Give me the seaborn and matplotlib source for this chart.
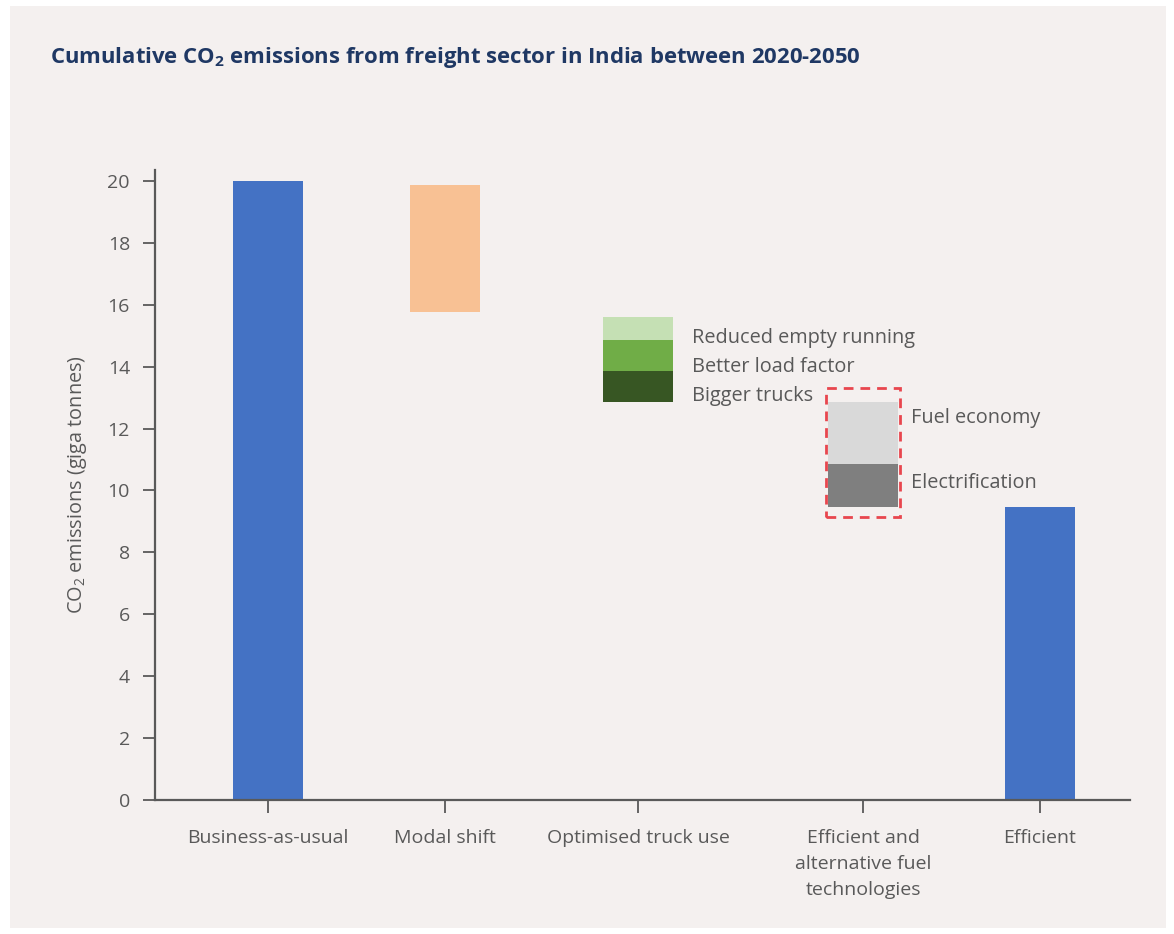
import numpy as np
import pandas as pd
import seaborn as sns
import matplotlib.pyplot as plt
from matplotlib.patches import Rectangle

# Data (giga tonnes CO2, cumulative 2020-2050)
categories = ['Business-as-usual', 'Modal shift', 'Optimised truck use',
              'Efficient and\nalternative fuel\ntechnologies', 'Efficient']
total_names = ['Business-as-usual', 'Efficient']
total_values = [20.0, 9.45]

modal_shift_bottom = 15.75
modal_shift_height = 4.1

truck_labels = ['Bigger trucks', 'Better load factor', 'Reduced empty running']
truck_bottoms = [12.85, 13.85, 14.85]
truck_heights = [1.0, 1.0, 0.75]

fuel_labels = ['Electrification', 'Fuel economy']
fuel_bottoms = [9.45, 10.85]
fuel_heights = [1.4, 2.0]

# Layout: where each category sits on the x axis (uneven, as in the original)
x_pos = [0, 0.917, 1.917, 3.083, 4]
bar_w = 0.363

# Styles
blue = '#4472c4'
orange = '#f8c194'
greens = ['#375623', '#70ad47', '#c5e0b4']
grays = ['#7f7f7f', '#d9d9d9']
bg = '#f4f0ef'
txt = '#595959'
navy = '#1f3864'

sns.set_theme(style='white')
plt.rcParams['font.family'] = ['Open Sans', 'DejaVu Sans']
plt.rcParams['mathtext.fontset'] = 'custom'
plt.rcParams['mathtext.rm'] = 'Open Sans'
plt.rcParams['mathtext.bf'] = 'Open Sans:bold'

fig = plt.figure(figsize=(11.74, 9.34), dpi=100)
fig.patch.set_facecolor('white')
fig.patches.append(Rectangle((10 / 1174, 6 / 934), 1156 / 1174, 922 / 934,
                             transform=fig.transFigure, facecolor=bg,
                             edgecolor='none', zorder=-10))
ax = fig.add_axes([155 / 1174, 134 / 934, 975 / 1174, 630 / 934])
ax.set_facecolor(bg)

pos = dict(zip(categories, x_pos))
df = pd.DataFrame({'x': [pos[n] for n in total_names], 'value': total_values})
# native_scale width is relative to the gap between the two bars
gap = df['x'].max() - df['x'].min()
sns.barplot(data=df, x='x', y='value', native_scale=True, color=blue,
            saturation=1, width=bar_w / gap, linewidth=0, ax=ax)

# Modal shift floating bar
ax.bar(x_pos[1], modal_shift_height, bottom=modal_shift_bottom, width=bar_w,
       color=orange, linewidth=0)

# Optimised truck use stack
for lab, b, h, c, dy in zip(truck_labels, truck_bottoms, truck_heights, greens, [-7, -8, -7]):
    ax.bar(x_pos[2], h, bottom=b, width=bar_w, color=c, linewidth=0)
    ax.annotate(lab, xy=(x_pos[2] + bar_w / 2, b + h / 2), xytext=(14, dy),
                textcoords='offset points', va='center', ha='left',
                fontsize=14.3, color=txt)

# Efficient and alternative fuel technologies stack
for lab, b, h, c, dy in zip(fuel_labels, fuel_bottoms, fuel_heights, grays, [2, 11]):
    ax.bar(x_pos[3], h, bottom=b, width=bar_w, color=c, linewidth=0)
    ax.annotate(lab, xy=(x_pos[3] + bar_w / 2, b + h / 2), xytext=(9, dy),
                textcoords='offset points', va='center', ha='left',
                fontsize=14.3, color=txt)

# Dashed highlight box around the fuel technologies stack
y0 = fuel_bottoms[0] - 0.32
y1 = fuel_bottoms[-1] + fuel_heights[-1] + 0.47
ax.add_patch(Rectangle((x_pos[3] - bar_w / 2 - 0.012, y0), bar_w + 0.024, y1 - y0,
                       fill=False, edgecolor='#e8464e', linewidth=2,
                       linestyle=(0, (3.5, 2.5)), zorder=5))

ax.set_xlim(-0.585, 4.466)
ax.set_ylim(0, 20.35)
ax.set_yticks(np.arange(0, 21, 2))
ax.set_xticks(x_pos)
ax.set_xticklabels(categories)
ax.set_xlabel('')
ax.set_ylabel('CO$_2$ emissions (giga tonnes)', fontsize=14.3, color=txt, labelpad=13)

for s in ['top', 'right']:
    ax.spines[s].set_visible(False)
for s in ['left', 'bottom']:
    ax.spines[s].set_color(txt)
    ax.spines[s].set_linewidth(1.6)
ax.tick_params(axis='both', which='major', direction='out', length=9,
               width=1.3, color=txt, labelcolor=txt, labelsize=14)
ax.tick_params(axis='x', pad=12)
ax.tick_params(axis='y', pad=9)
ax.tick_params(left=True, bottom=True)
for t in ax.get_xticklabels():
    t.set_linespacing(1.55)
    t.set_va('top')

fig.text(50 / 1174, 1 - 57 / 934,
         r'Cumulative CO$_\mathbf{2}$ emissions from freight sector in India between 2020-2050',
         fontsize=15.9, fontweight='bold', color=navy, va='center', ha='left')

fig.savefig('out.png', dpi=100, facecolor='white')
